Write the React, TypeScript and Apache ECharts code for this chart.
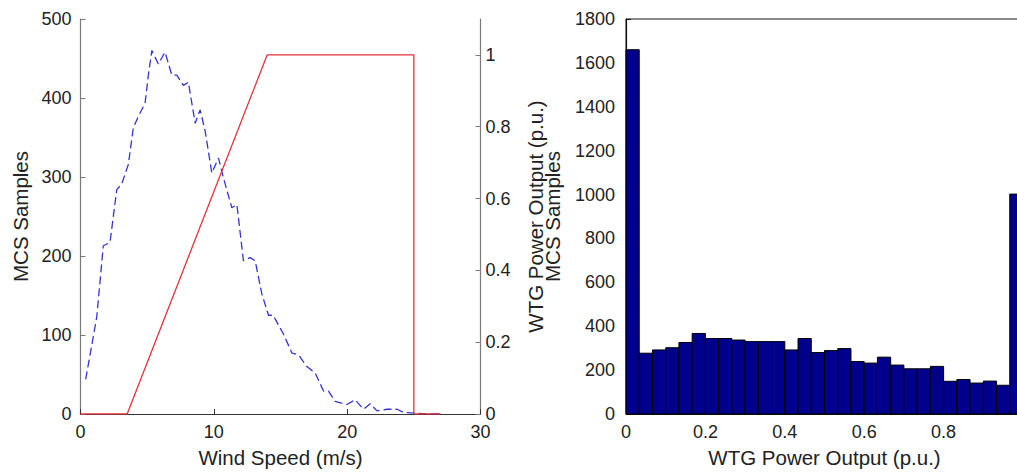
import React, { useEffect, useRef } from "react";
import * as echarts from "echarts";

// Left chart: MCS wind speed samples (dashed) and WTG power curve (solid)
const windSpeed = [0.39, 0.96, 1.22, 1.71, 2.21, 2.72, 3.09, 3.59, 3.96, 4.34, 4.84, 5.09, 5.35, 5.84, 6.34, 6.85, 7.22, 7.72, 8.09, 8.6, 8.97, 9.35, 9.85, 10.35, 10.72, 11.35, 11.73, 12.22, 12.73, 13.1, 13.6, 14.1, 14.45, 15.23, 15.86, 16.35, 16.98, 17.6, 18.23, 18.6, 19.1, 19.98, 20.6, 21.23, 21.73, 22.24, 22.99, 23.74, 24.23, 25.24, 26.2, 27.0];
const mcsSamples = [44, 98, 123, 213, 217, 284, 291, 316, 362, 377, 393, 429, 460, 443, 458, 429, 429, 416, 420, 368, 385, 358, 305, 324, 299, 261, 265, 194, 198, 194, 152, 125, 125, 101, 77, 75, 60, 52, 29, 29, 16, 12, 18, 6, 13, 4, 6, 6, 2, 1, 0, 0];
const curveSpeed = [0, 3.5, 14, 25, 25, 27];
const curvePower = [0, 0, 1, 1, 0, 0];

// Right chart: histogram of WTG power output (30 bins over 0..1 p.u.)
const binCount = 30;
const histCounts = [1660, 277, 292, 302, 326, 367, 344, 344, 337, 330, 330, 330, 292, 344, 280, 289, 298, 239, 232, 259, 223, 206, 206, 217, 149, 157, 141, 150, 131, 1002];

const leftYTicks = [0, 100, 200, 300, 400, 500];
const powerTicks = [0, 0.2, 0.4, 0.6, 0.8, 1];
const histXLabels = [0, 0.2, 0.4, 0.6, 0.8];

const FONT = "Liberation Sans";
const TXT = "#222";

const fmt = (v: number) => String(Math.round(v * 10) / 10);

export default function App() {
  const ref = useRef<HTMLDivElement>(null);
  useEffect(() => {
    if (!ref.current) return;
    const chart = echarts.init(ref.current, undefined, { renderer: "svg" });
    const histData = histCounts.map((c, i) => [i / binCount, (i + 1) / binCount, c]);
    const tickLabel = { fontFamily: FONT, fontSize: 18, color: TXT };
    const nameStyle = { fontFamily: FONT, fontSize: 20.5, color: TXT };
    chart.setOption({
      animation: false,
      backgroundColor: "#fff",
      grid: [
        { left: 80.5, top: 19, width: 400, height: 399 },
        { left: 626, top: 19, width: 397, height: 399, show: true, borderColor: "#111", borderWidth: 1, backgroundColor: "transparent" },
      ],
      xAxis: [
        {
          type: "value", gridIndex: 0, min: 0, max: 30, interval: 10,
          axisLine: { lineStyle: { color: "#333", width: 1.2 } },
          axisTick: { inside: true, length: 5, lineStyle: { color: "#333" } },
          axisLabel: { ...tickLabel, margin: 9 },
          splitLine: { show: false },
          name: "Wind Speed (m/s)", nameLocation: "middle", nameGap: 33, nameTextStyle: nameStyle,
        },
        {
          type: "value", gridIndex: 1, min: 0, max: 1, interval: 0.2,
          axisLine: { lineStyle: { color: "#111", width: 1.2 } },
          axisTick: { inside: true, length: 5, customValues: powerTicks, lineStyle: { color: "#111" } },
          axisLabel: { ...tickLabel, margin: 9, customValues: histXLabels, formatter: fmt },
          splitLine: { show: false },
          name: "WTG Power Output (p.u.)", nameLocation: "middle", nameGap: 33, nameTextStyle: nameStyle,
        },
      ],
      yAxis: [
        {
          type: "value", gridIndex: 0, position: "left", min: 0, max: 500, interval: 100,
          axisLine: { show: true, lineStyle: { color: "#7a7a7a", width: 1.2 } },
          axisTick: { show: true, inside: true, length: 5, lineStyle: { color: "#7a7a7a" } },
          axisLabel: { ...tickLabel, margin: 9, customValues: leftYTicks, formatter: (v: number) => String(v) },
          splitLine: { show: false },
          name: "MCS Samples", nameLocation: "middle", nameGap: 50, nameRotate: 90, nameTextStyle: nameStyle,
        },
        {
          type: "value", gridIndex: 0, position: "right", min: 0, max: 1.1,
          axisLine: { show: true, lineStyle: { color: "#7a7a7a", width: 1.2 } },
          axisTick: { show: true, inside: true, length: 5, customValues: powerTicks, lineStyle: { color: "#7a7a7a" } },
          axisLabel: { ...tickLabel, margin: 5, customValues: powerTicks, formatter: fmt },
          splitLine: { show: false },
          name: "WTG Power Output (p.u.)", nameLocation: "middle", nameGap: 44, nameRotate: 90, nameTextStyle: nameStyle,
        },
        {
          type: "value", gridIndex: 1, position: "left", min: 0, max: 1800, interval: 200,
          axisLine: { show: true, lineStyle: { color: "#111", width: 1.2 } },
          axisTick: { show: true, inside: true, length: 5, lineStyle: { color: "#111" } },
          axisLabel: { ...tickLabel, margin: 11, formatter: (v: number) => String(v) },
          splitLine: { show: false },
          name: "MCS Samples", nameLocation: "middle", nameGap: 63, nameRotate: 90, nameTextStyle: nameStyle,
        },
      ],
      series: [
        {
          type: "line", xAxisIndex: 0, yAxisIndex: 0, showSymbol: false, symbol: "none",
          data: windSpeed.map((x, i) => [x, mcsSamples[i]]),
          lineStyle: { color: "#3434d4", width: 1.3, type: [8, 4] },
          z: 2,
        },
        {
          type: "line", xAxisIndex: 0, yAxisIndex: 1, showSymbol: false, symbol: "none",
          data: curveSpeed.map((x, i) => [x, curvePower[i]]),
          lineStyle: { color: "#e3323c", width: 1.3 },
          z: 3,
        },
        {
          type: "custom", xAxisIndex: 1, yAxisIndex: 2,
          data: histData,
          encode: { x: [0, 1], y: 2 },
          renderItem: (params: any, api: any) => {
            const s = api.coord([api.value(0), api.value(2)]);
            const e = api.coord([api.value(1), 0]);
            return {
              type: "rect",
              shape: { x: s[0], y: s[1], width: e[0] - s[0], height: e[1] - s[1] },
              style: { fill: "#00008c", stroke: "#000", lineWidth: 1 },
            };
          },
        },
      ],
    });
    return () => chart.dispose();
  }, []);
  return (
    <div style={{ position: "fixed", left: 0, top: 0, width: 1017, height: 473, overflow: "hidden", background: "#fff" }}>
      <div ref={ref} style={{ width: 1040, height: 473 }} />
    </div>
  );
}
